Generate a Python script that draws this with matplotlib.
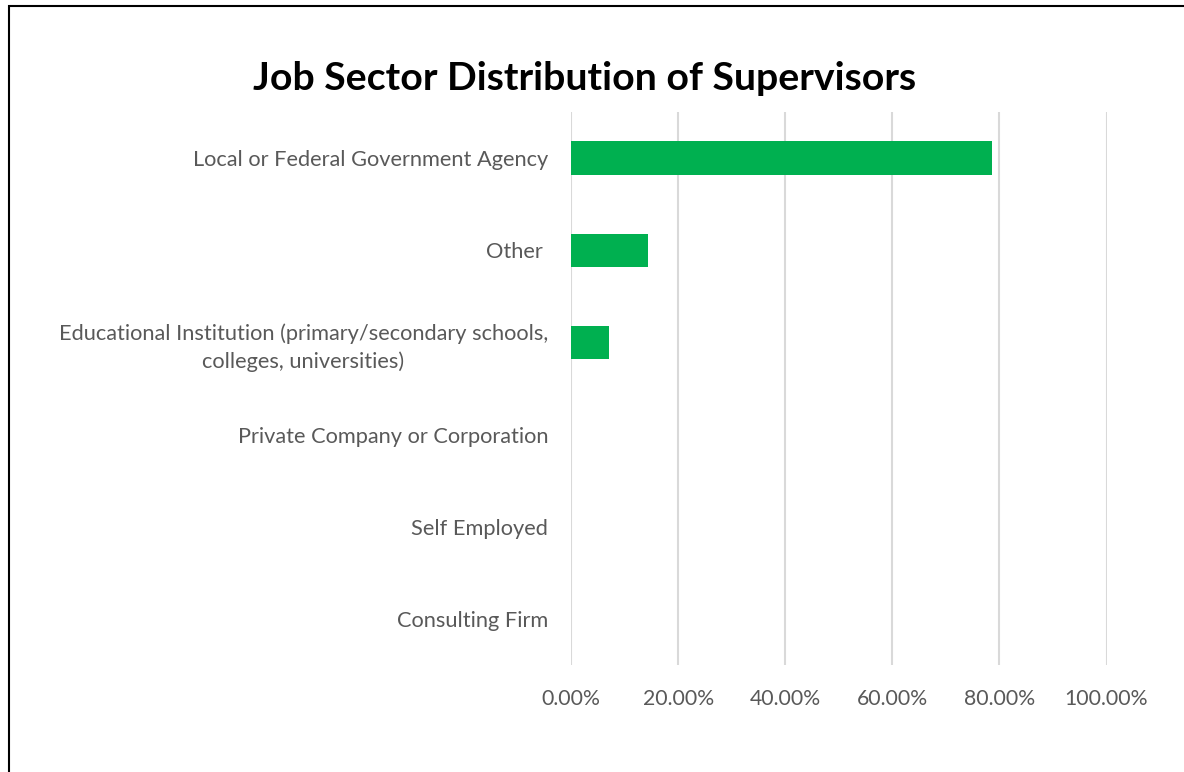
import matplotlib
matplotlib.use("Agg")
import matplotlib.pyplot as plt
from matplotlib.patches import Rectangle
from matplotlib.ticker import FuncFormatter

# Share of supervisors by job sector (fraction of respondents)
sectors = [
    "Local or Federal Government Agency",
    "Other ",
    "Educational Institution (primary/secondary schools,\ncolleges, universities)",
    "Private Company or Corporation",
    "Self Employed",
    "Consulting Firm",
]
shares = [11 / 14, 2 / 14, 1 / 14, 0.0, 0.0, 0.0]
x_ticks = [0.0, 0.2, 0.4, 0.6, 0.8, 1.0]

plt.rcParams["font.family"] = ["Lato", "DejaVu Sans"]
grey_text = "#595959"
bar_green = "#00b050"

fig = plt.figure(figsize=(11.84, 7.72), dpi=100)
ax = fig.add_axes([571 / 1184, 1 - 665 / 772, (1106.5 - 571) / 1184, (665 - 112) / 772])

y_pos = list(range(len(sectors)))
ax.barh(y_pos, shares, height=0.36, color=bar_green, zorder=3)

ax.set_ylim(len(sectors) - 0.5, -0.5)
ax.set_xlim(0, 1.0)
ax.set_yticks(y_pos)
ax.set_yticklabels(sectors, fontsize=15.7, color=grey_text, ha="right",
                   multialignment="center", linespacing=1.45)
ax.set_xticks(x_ticks)
ax.xaxis.set_major_formatter(FuncFormatter(lambda v, _: f"{v * 100:.2f}%"))
ax.tick_params(axis="x", labelsize=15.3, labelcolor=grey_text, length=0, pad=17)
ax.tick_params(axis="y", length=0, pad=16.5)

ax.grid(axis="x", color="#d9d9d9", linewidth=1.5, zorder=0)
for side in ax.spines.values():
    side.set_visible(False)

fig.text(0.494, 1 - 79 / 772, "Job Sector Distribution of Supervisors",
         ha="center", va="center", fontsize=28.3, fontweight="bold", color="black")

# outer frame around the chart area
fig.patches.append(Rectangle((9 / 1184, -0.05), 1.1, 1 - 6 / 772 + 0.05,
                             transform=fig.transFigure, fill=False,
                             edgecolor="black", linewidth=1.5))

fig.savefig("out.png", dpi=100, facecolor="white")
